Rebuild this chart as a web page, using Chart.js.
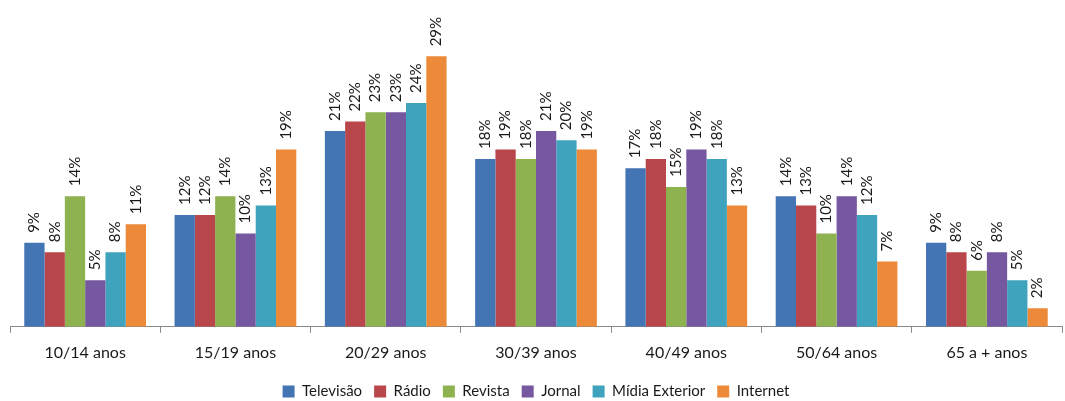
<!DOCTYPE html>
<html>
<head>
<meta charset="utf-8">
<script src="https://cdn.jsdelivr.net/npm/chart.js@4/dist/chart.umd.min.js"></script>
<style>
  html, body { margin: 0; padding: 0; background: #fff; }
  #wrap { width: 1065px; height: 401px; }
</style>
</head>
<body>
<div id="wrap"><canvas id="myChart"></canvas></div>
<script>
var faixas = ['10/14 anos', '15/19 anos', '20/29 anos', '30/39 anos', '40/49 anos', '50/64 anos', '65 a + anos'];
var televisao = [9, 12, 21, 18, 17, 14, 9];
var radio = [8, 12, 22, 19, 18, 13, 8];
var revista = [14, 14, 23, 18, 15, 10, 6];
var jornal = [5, 10, 23, 21, 19, 14, 8];
var midiaExterior = [8, 13, 24, 20, 18, 12, 5];
var internet = [11, 19, 29, 19, 13, 7, 2];

var fonte = 'Lato, "Open Sans", sans-serif';

// rotated % labels above each bar
var rotuloBarras = {
    id: 'rotuloBarras',
    afterDatasetsDraw: function (chart) {
        var ctx = chart.ctx;
        ctx.save();
        ctx.font = '15px ' + fonte;
        ctx.fillStyle = '#1a1a1a';
        ctx.textAlign = 'left';
        ctx.textBaseline = 'middle';
        chart.data.datasets.forEach(function (ds, i) {
            var meta = chart.getDatasetMeta(i);
            meta.data.forEach(function (bar, j) {
                ctx.save();
                ctx.translate(bar.x, bar.y - 10);
                ctx.rotate(-Math.PI / 2);
                ctx.fillText(ds.data[j] + '%', 0, 0);
                ctx.restore();
            });
        });
        ctx.restore();
    }
};

var ctx = document.getElementById('myChart').getContext('2d');
var data = {
    labels: faixas,
    datasets: [
        { label: 'Televisão', data: televisao, backgroundColor: '#4374B3' },
        { label: 'Rádio', data: radio, backgroundColor: '#B8464A' },
        { label: 'Revista', data: revista, backgroundColor: '#8EB24F' },
        { label: 'Jornal', data: jornal, backgroundColor: '#7558A0' },
        { label: 'Mídia Exterior', data: midiaExterior, backgroundColor: '#3FA3BE' },
        { label: 'Internet', data: internet, backgroundColor: '#EC8A3A' }
    ]
};
var myChart = new Chart(ctx, {
    type: 'bar',
    data: data,
    plugins: [rotuloBarras],
    options: {
        maintainAspectRatio: false,
        responsive: true,
        animation: false,
        layout: { padding: { top: 47, left: 10, right: 3, bottom: -8 } },
        datasets: { bar: { categoryPercentage: 0.81, barPercentage: 1.0 } },
        scales: {
            x: {
                grid: { display: true, drawOnChartArea: false, offset: true, tickLength: 6, color: '#8a8a8a' },
                border: { display: true, color: '#8a8a8a' },
                ticks: { color: '#1a1a1a', font: { family: fonte, size: 16 }, padding: 10, maxRotation: 0 }
            },
            y: {
                display: false,
                min: 0,
                max: 30
            }
        },
        plugins: {
            tooltip: { enabled: false },
            legend: {
                position: 'bottom',
                labels: { boxWidth: 12, boxHeight: 12, padding: 12, color: '#1a1a1a', font: { family: fonte, size: 15 } }
            }
        }
    }
});
</script>
</body>
</html>
